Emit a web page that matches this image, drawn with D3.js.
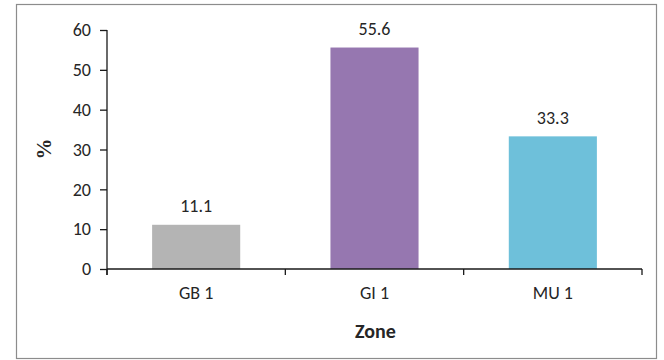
<!DOCTYPE html>
<html>
<head>
<meta charset="utf-8">
<script src="https://cdn.jsdelivr.net/npm/d3@7"></script>
<style>
  html, body { margin: 0; padding: 0; background: #fff; }
  svg { display: block; }
  text { font-family: Carlito, "Open Sans", "Liberation Sans", sans-serif; fill: #262626; }
</style>
</head>
<body>
<svg id="chart" width="664" height="360"></svg>
<script>
// Share of records per zone (%)
const zones = ["GB 1", "GI 1", "MU 1"];
const percents = [11.1, 55.6, 33.3];
const barColors = ["#b4b4b4", "#9677b0", "#6ec0da"];
const yTicks = [0, 10, 20, 30, 40, 50, 60];

const svg = d3.select("#chart");

// outer frame
svg.append("rect")
  .attr("x", 16.5).attr("y", 4.5)
  .attr("width", 640).attr("height", 354)
  .attr("fill", "#fff")
  .attr("stroke", "#8c8c8c").attr("stroke-width", 1.2);

const plot = { left: 107, right: 642, top: 30, bottom: 269 };

const x = d3.scaleBand()
  .domain(zones)
  .range([plot.left, plot.right])
  .paddingInner(0.506)
  .paddingOuter(0.253);

const y = d3.scaleLinear()
  .domain([0, 60])
  .range([plot.bottom, plot.top]);

// bars
svg.append("g").selectAll("rect")
  .data(zones)
  .join("rect")
  .attr("x", d => x(d))
  .attr("y", (d, i) => y(percents[i]))
  .attr("width", x.bandwidth())
  .attr("height", (d, i) => y(0) - y(percents[i]))
  .attr("fill", (d, i) => barColors[i]);

// value labels
svg.append("g").selectAll("text")
  .data(zones)
  .join("text")
  .attr("x", d => x(d) + x.bandwidth() / 2)
  .attr("y", (d, i) => y(percents[i]) - 12.5)
  .attr("text-anchor", "middle")
  .style("font-size", "18px")
  .text((d, i) => percents[i].toFixed(1));

// y axis
const yAxis = svg.append("g")
  .attr("transform", `translate(${plot.left},0)`)
  .call(d3.axisLeft(y).tickValues(yTicks).tickSize(7).tickSizeOuter(0).tickPadding(9));
yAxis.select(".domain").attr("stroke", "#1a1a1a").attr("stroke-width", 1.3)
  .attr("d", `M0,${plot.top}V${plot.bottom + 6}`);
yAxis.selectAll(".tick line").attr("stroke", "#1a1a1a").attr("stroke-width", 1.3);
yAxis.selectAll(".tick text").style("font-size", "18px").attr("fill", "#262626");

// x axis with category boundary ticks
const xAxisG = svg.append("g");
xAxisG.append("line")
  .attr("x1", plot.left).attr("x2", plot.right)
  .attr("y1", plot.bottom).attr("y2", plot.bottom)
  .attr("stroke", "#1a1a1a").attr("stroke-width", 1.3);
const step = x.step();
const bounds = d3.range(zones.length + 1).map(i => x(zones[0]) - x.paddingOuter() * step + i * step);
xAxisG.selectAll(".bound")
  .data(bounds)
  .join("line")
  .attr("class", "bound")
  .attr("x1", d => d).attr("x2", d => d)
  .attr("y1", plot.bottom).attr("y2", plot.bottom + 6)
  .attr("stroke", "#1a1a1a").attr("stroke-width", 1.3);
xAxisG.selectAll(".cat")
  .data(zones)
  .join("text")
  .attr("class", "cat")
  .attr("x", d => x(d) + x.bandwidth() / 2)
  .attr("y", 299)
  .attr("text-anchor", "middle")
  .style("font-size", "18px")
  .text(d => d);

// axis titles
svg.append("text")
  .attr("x", (plot.left + plot.right) / 2 + 1)
  .attr("y", 338)
  .attr("text-anchor", "middle")
  .style("font-size", "20px")
  .style("font-weight", "bold")
  .text("Zone");

svg.append("text")
  .attr("transform", `translate(51,149) rotate(-90)`)
  .attr("text-anchor", "middle")
  .style("font-family", "'Liberation Serif', serif")
  .style("font-size", "21px")
  .style("font-weight", "bold")
  .text("%");
</script>
</body>
</html>
